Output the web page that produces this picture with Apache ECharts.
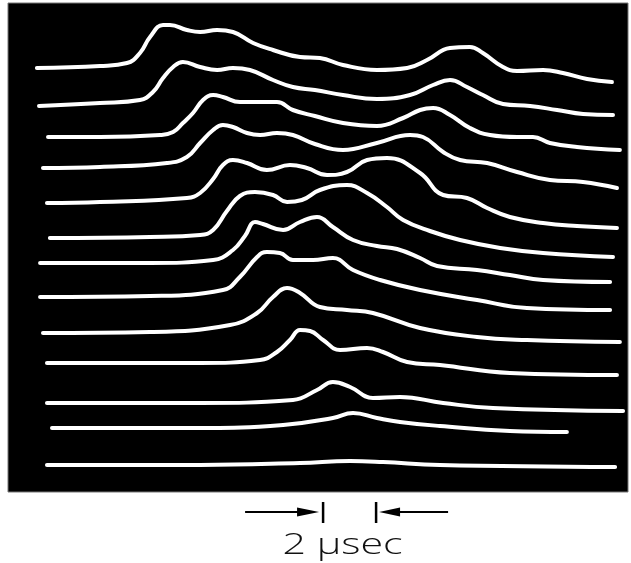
<!DOCTYPE html>
<html>
<head>
<meta charset="utf-8">
<script src="https://cdn.jsdelivr.net/npm/echarts@6/dist/echarts.min.js"></script>
<style>
html,body{margin:0;padding:0;background:#fff;}
#chart{width:631px;height:563px;}
</style>
</head>
<body>
<div id="chart"></div>
<script>
// time in microseconds, signal height in arbitrary units (stacked traces)
const trace01 = [[1.09,424],[3.47,426],[4.49,429],[4.98,439],[5.36,455],[5.85,467],[6.11,467],[6.75,462],[7.25,460],[7.89,462],[8.49,460],[9.25,449],[10.0,442],[11.02,435],[11.77,434],[12.64,427],[13.92,422],[15.06,424],[15.81,432],[16.68,444],[17.43,445],[17.92,439],[18.68,425],[19.21,421],[20.19,422],[20.94,419],[21.85,413],[22.79,410]];
const trace02 = [[1.17,386],[3.47,389],[4.98,392],[5.47,400],[5.85,414],[6.23,425],[6.60,430],[7.25,425],[7.89,422],[8.49,424],[9.13,422],[10.0,412],[10.75,405],[11.58,402],[12.64,397],[13.92,393],[15.17,397],[16.04,407],[16.68,412],[17.32,405],[17.92,397],[18.68,388],[19.70,386],[20.72,382],[21.70,378],[22.83,377]];
const trace03 = [[1.51,355],[3.47,355],[5.74,357],[6.23,360],[6.60,369],[6.98,379],[7.36,392],[7.74,397],[8.11,395],[8.75,390],[9.51,390],[10.15,390],[10.75,382],[11.58,376],[12.64,369],[13.92,366],[14.91,374],[15.55,382],[16.04,384],[16.68,377],[17.43,364],[18.19,357],[19.21,355],[19.81,355],[20.45,349],[21.47,345],[23.09,342]];
const trace04 = [[1.32,324],[3.47,325],[6.0,329],[6.75,335],[7.25,349],[7.74,362],[8.11,367],[8.49,365],[9.02,359],[9.51,357],[10.15,359],[10.75,357],[11.58,348],[12.64,342],[13.92,349],[15.17,357],[15.66,355],[16.42,340],[17.06,332],[18.08,329],[19.21,320],[20.45,312],[21.70,310],[22.98,304]];
const trace05 = [[1.47,289],[3.47,290],[6.75,294],[7.25,299],[7.74,313],[8.11,327],[8.49,332],[9.02,329],[9.77,322],[10.64,327],[11.28,324],[12.04,317],[12.79,320],[13.55,332],[14.30,334],[15.55,319],[16.42,297],[17.32,294],[18.08,284],[18.94,275],[20.19,269],[21.47,266],[22.98,264]];
const trace06 = [[1.58,254],[5.36,255],[7.25,257],[7.74,262],[8.26,281],[8.75,296],[9.32,300],[10.0,297],[10.53,290],[11.09,292],[11.77,302],[12.79,307],[13.55,299],[14.30,285],[14.91,272],[15.92,261],[17.06,252],[18.57,244],[20.19,239],[22.83,235]];
const trace07 = [[1.21,229],[5.36,229],[7.74,232],[8.49,242],[8.94,256],[9.32,270],[9.62,268],[10.38,262],[11.02,270],[11.66,275],[12.26,265],[13.02,252],[13.92,246],[14.68,243],[15.55,234],[16.19,226],[17.70,222],[18.94,217],[20.19,212],[22.72,210]];
const trace08 = [[1.21,195],[5.36,196],[8.11,202],[8.75,215],[9.40,235],[9.77,240],[10.26,239],[10.75,232],[11.51,232],[12.26,234],[13.02,222],[14.04,212],[15.55,202],[17.70,192],[19.58,184],[22.72,182]];
const trace09 = [[1.32,159],[5.36,160],[8.38,167],[9.40,179],[10.0,195],[10.53,204],[11.02,199],[11.77,185],[12.79,182],[13.77,179],[15.55,164],[17.70,155],[19.58,152],[23.09,150]];
const trace10 = [[1.47,129],[7.25,129],[9.51,132],[10.15,140],[10.64,152],[11.02,162],[11.40,161],[11.89,152],[12.53,142],[13.55,144],[14.15,140],[15.06,130],[16.30,127],[18.94,119],[22.98,117]];
const trace11 = [[1.47,89],[7.25,89],[10.75,92],[11.66,102],[12.26,110],[12.91,105],[13.77,94],[14.79,95],[16.42,89],[18.30,84],[23.21,81]];
const trace12 = [[1.66,64],[7.25,64],[10.38,67],[12.26,74],[13.02,79],[13.92,74],[14.79,70],[16.30,66],[18.94,61],[21.09,60]];
const trace13 = [[1.47,27],[7.25,27],[11.02,29],[12.91,31],[14.15,30],[16.30,27],[22.91,25]];

const traces = [trace01,trace02,trace03,trace04,trace05,trace06,trace07,trace08,trace09,trace10,trace11,trace12,trace13];
const scaleBarTimes = [11.89, 13.89]; // 2 microseconds
const scaleLabel = '2 \u03bcsec';

const chart = echarts.init(document.getElementById('chart'), null, {renderer:'canvas'});
const option = {
  backgroundColor: '#ffffff',
  animation: false,
  grid: {left: 8, right: 3, top: 3, bottom: 71, show: true, backgroundColor: '#000000', borderColor: '#777', borderWidth: 1},
  xAxis: {type: 'value', min: 0, max: 23.396, show: false},
  yAxis: {type: 'value', min: 0, max: 489, show: false},
  series: traces.map(function(d){
    return {type:'line', data:d, showSymbol:false, symbol:'none', smooth:0.45,
      lineStyle:{color:'#ffffff', width:4, cap:'round', join:'round'}};
  })
};
chart.setOption(option);

// scale bar annotation positioned with the x axis scale
const xa = chart.convertToPixel({gridIndex:0}, [scaleBarTimes[0], 0])[0];
const xb = chart.convertToPixel({gridIndex:0}, [scaleBarTimes[1], 0])[0];
const yBar = 512;
const lw = 2;
const cx = (xa + xb) / 2 - 7;
chart.setOption({
  graphic: [
    {type:'line', shape:{x1:xa-78, y1:yBar, x2:xa-10, y2:yBar}, style:{stroke:'#000', lineWidth:lw}},
    {type:'polygon', shape:{points:[[xa-26,yBar-4.5],[xa-4,yBar],[xa-26,yBar+4.5]]}, style:{fill:'#000'}},
    {type:'line', shape:{x1:xa, y1:yBar-10, x2:xa, y2:yBar+11}, style:{stroke:'#000', lineWidth:2.5}},
    {type:'line', shape:{x1:xb, y1:yBar-10, x2:xb, y2:yBar+11}, style:{stroke:'#000', lineWidth:2.5}},
    {type:'polygon', shape:{points:[[xb+24,yBar-4.5],[xb+3,yBar],[xb+24,yBar+4.5]]}, style:{fill:'#000'}},
    {type:'line', shape:{x1:xb+10, y1:yBar, x2:xb+72, y2:yBar}, style:{stroke:'#000', lineWidth:lw}},
    {type:'text', x:cx, y:546, scaleX:1.42, scaleY:1, originX:0, originY:0,
      style:{text:scaleLabel, fill:'#111', font:'300 29px "Open Sans", "DejaVu Sans", sans-serif', align:'center', verticalAlign:'middle'}}
  ]
});
</script>
</body>
</html>
